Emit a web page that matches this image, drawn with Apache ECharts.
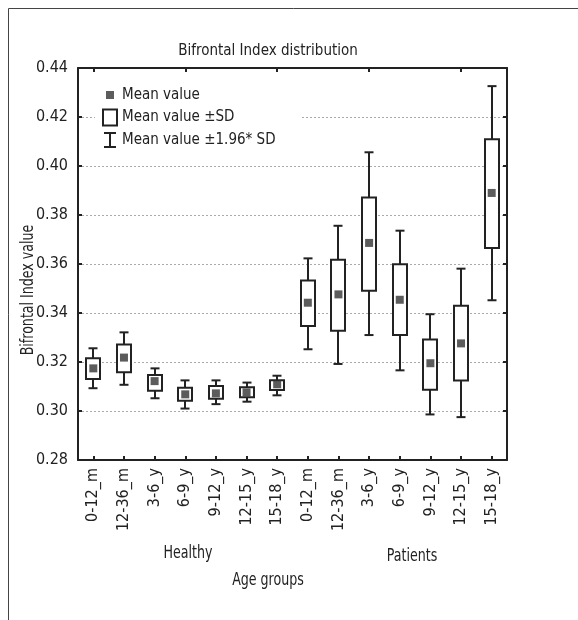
<!DOCTYPE html>
<html><head><meta charset="utf-8">
<script src="https://cdn.jsdelivr.net/npm/echarts@6/dist/echarts.min.js"></script>
<style>html,body{margin:0;padding:0;background:#fff}#c{width:578px;height:620px}</style>
</head><body><div id="c"></div>
<script>
const categories = ['0-12_m','12-36_m','3-6_y','6-9_y','9-12_y','12-15_y','15-18_y','0-12_m','12-36_m','3-6_y','6-9_y','9-12_y','12-15_y','15-18_y'];
const meanValues = [0.3174,0.3218,0.3122,0.3068,0.3072,0.3076,0.3109,0.3442,0.3476,0.3686,0.3454,0.3195,0.3276,0.3890];
const sdLow      = [0.3131,0.3158,0.3083,0.3042,0.3050,0.3056,0.3086,0.3347,0.3328,0.3491,0.3310,0.3087,0.3124,0.3665];
const sdHigh     = [0.3215,0.3271,0.3147,0.3095,0.3102,0.3097,0.3126,0.3533,0.3617,0.3871,0.3599,0.3292,0.3430,0.4109];
const ciLow      = [0.3093,0.3107,0.3052,0.3010,0.3028,0.3038,0.3064,0.3252,0.3192,0.3310,0.3166,0.2986,0.2975,0.3452];
const ciHigh     = [0.3256,0.3321,0.3174,0.3125,0.3125,0.3116,0.3144,0.3623,0.3756,0.4056,0.3736,0.3395,0.3581,0.4326];
const groupLabels = ['Healthy','Patients'];
const yMin = 0.28, yMax = 0.44, yStep = 0.02;

const FONT = "'Liberation Sans Narrow','DejaVu Sans Condensed','Roboto Condensed','Liberation Sans',sans-serif";
const INK = '#222';

const chart = echarts.init(document.getElementById('c'), null, {renderer:'canvas'});

const whiskerData = categories.map((c,i)=>[i, ciLow[i], ciHigh[i]]);
const boxData = categories.map((c,i)=>[i, sdLow[i], sdHigh[i]]);
const meanData = categories.map((c,i)=>[i, meanValues[i]]);

function renderWhisker(params, api){
  const i = api.value(0);
  const lo = api.coord([i, api.value(1)]);
  const hi = api.coord([i, api.value(2)]);
  const x = Math.round(lo[0]);
  const cw = 4.5;
  const st = {stroke: INK, lineWidth: 2};
  return {type:'group', children:[
    {type:'line', shape:{x1:x, y1:lo[1], x2:x, y2:hi[1]}, style:st},
    {type:'line', shape:{x1:x-cw, y1:lo[1], x2:x+cw, y2:lo[1]}, style:st},
    {type:'line', shape:{x1:x-cw, y1:hi[1], x2:x+cw, y2:hi[1]}, style:st}
  ]};
}
function renderBox(params, api){
  const i = api.value(0);
  const lo = api.coord([i, api.value(1)]);
  const hi = api.coord([i, api.value(2)]);
  const x = Math.round(lo[0]);
  const bw = 14;
  return {type:'rect', shape:{x:x-bw/2, y:hi[1], width:bw, height:lo[1]-hi[1]},
    style:{fill:'#fff', stroke:INK, lineWidth:2}};
}

const tickStyle = {show:true, inside:true, length:4, lineStyle:{color:INK, width:2}};
const labelText = (txt, x, y, rot) => ({type:'text', x:x, y:y, rotation:rot||0, scaleX:0.78,
  style:{text:txt, fontFamily:FONT, fontSize:18, fill:INK, align:'center', verticalAlign:'middle'}});

const option = {
  animation:false,
  backgroundColor:'#fff',
  title:{text:'Bifrontal Index distribution', left:263, textAlign:'center', top:39,
    textStyle:{fontFamily:FONT, fontSize:15, fontWeight:'normal', color:INK}},
  legend:{
    orient:'vertical', left:95, top:81, padding:[6,26,6,7], itemGap:5.5,
    itemWidth:14, itemHeight:16, itemTextGap:5, backgroundColor:'#fff',
    textStyle:{fontFamily:FONT, fontSize:15, color:INK},
    data:[
      {name:'Mean value', icon:'path://M0,0M14,16M3,4L11,4L11,12L3,12Z', itemStyle:{color:'#333'}},
      {name:'Mean value ±SD', icon:'rect', itemStyle:{color:'#fff', borderColor:INK, borderWidth:2}},
      {name:'Mean value ±1.96* SD', icon:'path://M0,0M14,16M1,0L13,0L13,2L8,2L8,14L13,14L13,16L1,16L1,14L6,14L6,2L1,2Z', itemStyle:{color:INK}}
    ]
  },
  grid:{left:78, right:71, top:68, bottom:160},
  xAxis:[
    {type:'category', data:categories, position:'bottom', boundaryGap:true,
      axisLine:{lineStyle:{color:INK, width:2}},
      axisTick:Object.assign({alignWithLabel:true}, tickStyle),
      axisLabel:{rotate:90, margin:8, interval:0, fontFamily:FONT, fontSize:16, color:INK},
      splitLine:{show:false}},
    {type:'category', data:categories, position:'top', boundaryGap:true,
      axisLine:{lineStyle:{color:INK, width:2}},
      axisTick:Object.assign({alignWithLabel:true}, tickStyle),
      axisLabel:{show:false}, splitLine:{show:false}}
  ],
  yAxis:[
    {type:'value', min:yMin, max:yMax, interval:yStep, position:'left',
      axisLine:{show:true, lineStyle:{color:INK, width:2}},
      axisTick:tickStyle,
      axisLabel:{margin:10, fontFamily:FONT, fontSize:16, color:INK, formatter:v=>v.toFixed(2)},
      splitLine:{show:true, lineStyle:{color:'#aaa', width:1, type:[2,2]}}},
    {type:'value', min:yMin, max:yMax, interval:yStep, position:'right',
      axisLine:{show:true, lineStyle:{color:INK, width:2}},
      axisTick:tickStyle, axisLabel:{show:false}, splitLine:{show:false}}
  ],
  graphic:[
    {type:'polyline', shape:{points:[[8.5,620],[8.5,8.5],[578,8.5]]}, style:{stroke:'#444', lineWidth:1, fill:null}, silent:true},
    labelText('Bifrontal Index value', 28, 290, Math.PI/2),
    labelText(groupLabels[0], 188, 553),
    labelText(groupLabels[1], 412, 556),
    labelText('Age groups', 268, 580)
  ],
  series:[
    {name:'Mean value ±1.96* SD', type:'custom', renderItem:renderWhisker, data:whiskerData,
      encode:{x:0, y:[1,2]}, itemStyle:{color:INK}, z:2},
    {name:'Mean value ±SD', type:'custom', renderItem:renderBox, data:boxData,
      encode:{x:0, y:[1,2]}, itemStyle:{color:'#fff', borderColor:INK}, z:3},
    {name:'Mean value', type:'scatter', data:meanData, symbol:'rect', symbolSize:8,
      itemStyle:{color:'#333'}, z:4}
  ]
};
chart.setOption(option);
</script>
</body></html>
